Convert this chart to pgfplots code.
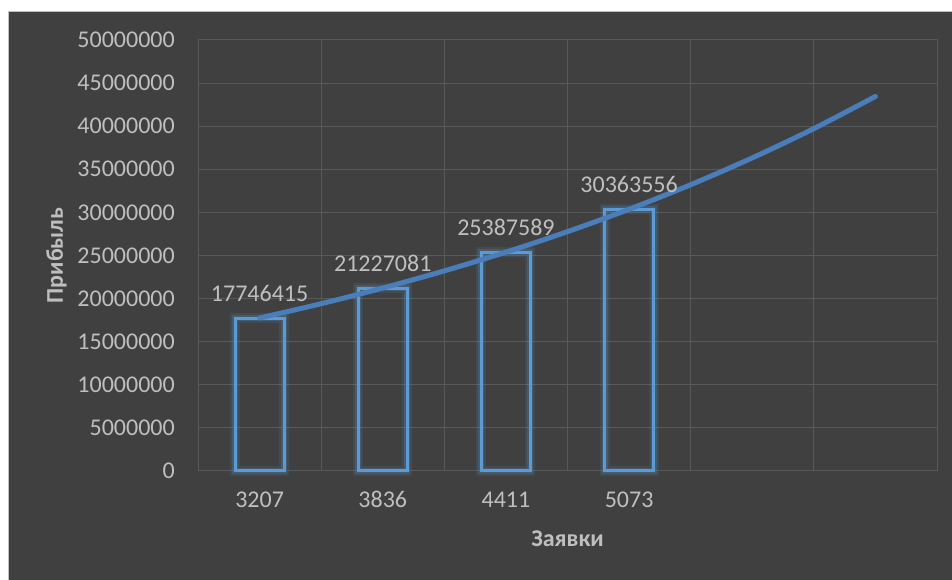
\documentclass[border=0pt]{standalone}
\usepackage{pgfplots}
\pgfplotsset{compat=1.18}
\usepackage{fontspec}
\setmainfont{Carlito}
\definecolor{bg}{HTML}{404040}
\definecolor{gridc}{HTML}{595959}
\definecolor{labc}{HTML}{BFBFBF}
\definecolor{barblue}{HTML}{5B9BD5}
\definecolor{trendc}{HTML}{4A7EBB}
\begin{document}
\begin{tikzpicture}
\useasboundingbox (0,0) rectangle (952pt,580pt);
\fill[white] (0,0) rectangle (952pt,580pt);
\fill[bg] (8pt,0) rectangle (952pt,569pt);
\draw[black!25, line width=0.8pt] (8pt,0) -- (8pt,569pt) -- (952pt,569pt);
\begin{axis}[
  at={(198pt,109pt)}, anchor=south west,
  scale only axis, width=739pt, height=431pt,
  xmin=0.5, xmax=6.5, ymin=0, ymax=50000000,
  xtick={1,2,3,4}, xticklabels={3207,3836,4411,5073},
  minor xtick={0.5,1.5,2.5,3.5,4.5,5.5,6.5},
  ytick={0,5000000,10000000,15000000,20000000,25000000,30000000,35000000,40000000,45000000,50000000},
  ymajorgrids, xminorgrids,
  major tick length=0pt, minor tick length=0pt,
  axis line style={draw=gridc, line width=1pt},
  major grid style={draw=gridc, line width=1pt},
  minor grid style={draw=gridc, line width=1pt},
  tick label style={font=\fontsize{24}{28}\selectfont, text=labc},
  scaled y ticks=false,
  yticklabel style={/pgf/number format/fixed, /pgf/number format/1000 sep={}, /pgf/number format/assume math mode=true, inner sep=0pt, anchor=east, xshift=-23pt},
  xticklabel style={inner sep=0pt, anchor=base, yshift=-36.6pt},
  xlabel={Заявки}, ylabel={Прибыль},
  label style={font=\bfseries\fontsize{24}{28}\selectfont, text=labc},
  xlabel style={at={(axis description cs:0.5,0)}, anchor=base, yshift=-76pt},
  ylabel style={at={(axis description cs:-0.1827,0.5)}, anchor=base},
  clip=false,
]
\addplot[ybar, bar width=49pt, bar shift=0pt, fill=none, draw=barblue, draw opacity=0.12, line width=10pt] coordinates {(1,17746415) (2,21227081) (3,25387589) (4,30363556)};
\addplot[ybar, bar width=49pt, bar shift=0pt, fill=none, draw=barblue, draw opacity=0.2, line width=6pt] coordinates {(1,17746415) (2,21227081) (3,25387589) (4,30363556)};
\addplot[ybar, bar width=49pt, bar shift=0pt, fill=none, draw=barblue, line width=3pt,
  point meta=explicit symbolic, nodes near coords={\pgfplotspointmeta},
  every node near coord/.style={font=\fontsize{24}{28}\selectfont, text=labc, inner sep=0pt, anchor=base, yshift=17pt}]
  coordinates {(1,17746415)[17746415] (2,21227081)[21227081] (3,25387589)[25387589] (4,30363556)[30363556]};
\addplot[trendc, line width=5pt, line cap=round, smooth, no marks] coordinates {
 (1,17746415) (1.5,19409000) (2,21227081) (2.5,23216000) (3,25387589) (3.5,27767000) (4,30363556) (4.5,33209000) (5,36320000) (5.5,39720000) (6,43450000)};
\end{axis}
\end{tikzpicture}
\end{document}
